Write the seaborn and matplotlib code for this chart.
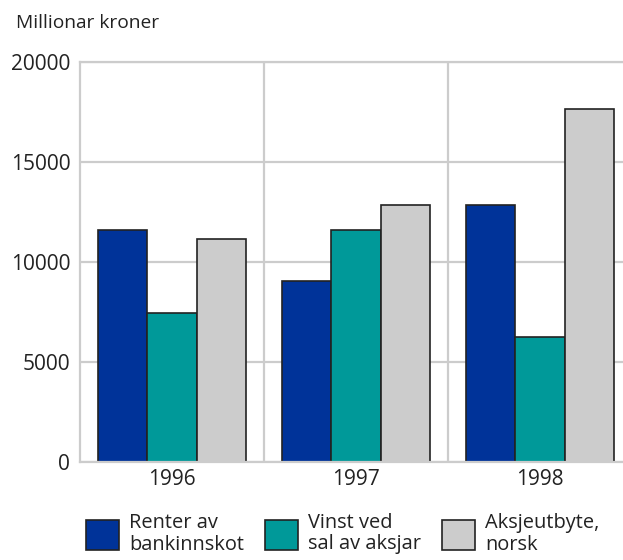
import pandas as pd
import seaborn as sns
import matplotlib.pyplot as plt

# Data (million NOK)
years = ['1996', '1997', '1998']
series = ['Renter av\nbankinnskot', 'Vinst ved\nsal av aksjar', 'Aksjeutbyte,\nnorsk']
renter = [11620, 9050, 12870]
vinst = [7430, 11620, 6230]
utbyte = [11170, 12830, 17650]
colors = ['#003399', '#009999', '#cccccc']

df = pd.DataFrame({
    'year': years * 3,
    'series': [series[0]] * 3 + [series[1]] * 3 + [series[2]] * 3,
    'value': renter + vinst + utbyte,
})

sns.set_style('white')
plt.rcParams['font.family'] = ['Open Sans', 'DejaVu Sans']
grid_col = '#cccccc'

fig = plt.figure(figsize=(6.23, 5.6), dpi=100)
ax = fig.add_axes([80 / 623, 98 / 560, 552 / 623, 400 / 560])

sns.barplot(data=df, x='year', y='value', hue='series', palette=colors,
            saturation=1, edgecolor='#222222', linewidth=1.2, width=0.8, ax=ax)

ax.set_axisbelow(True)
ax.set_xlim(-0.5, 2.5)
ax.set_ylim(0, 20000)
ax.set_yticks([0, 5000, 10000, 15000, 20000])
ax.grid(axis='y', color=grid_col, linewidth=1.6)
for xv in [0.5, 1.5]:
    ax.axvline(xv, color=grid_col, linewidth=1.6, zorder=0)
for s in ax.spines.values():
    s.set_color(grid_col)
    s.set_linewidth(1.6)
ax.set_xlabel('')
ax.set_ylabel('')
ax.tick_params(axis='both', length=0, labelsize=15, colors='#222222')
ax.tick_params(axis='y', pad=7)
ax.tick_params(axis='x', pad=5)

fig.text(16 / 623, 1 - 23 / 560, 'Millionar kroner', fontsize=13.8,
         color='#222222', va='center', ha='left')

ax.legend_.remove()
handles, labels = ax.get_legend_handles_labels()
leg = fig.legend(handles, labels, loc='upper left', ncol=3,
                 bbox_to_anchor=(86 / 623, 1 - 513 / 560), frameon=False,
                 fontsize=14.4, handlelength=1.65, handleheight=1.9,
                 handletextpad=0.5, columnspacing=1.05, borderpad=0,
                 borderaxespad=0, labelspacing=0)
for t in leg.get_texts():
    t.set_color('#222222')
    t.set_linespacing(1.1)

fig.savefig('out.png', dpi=100)
